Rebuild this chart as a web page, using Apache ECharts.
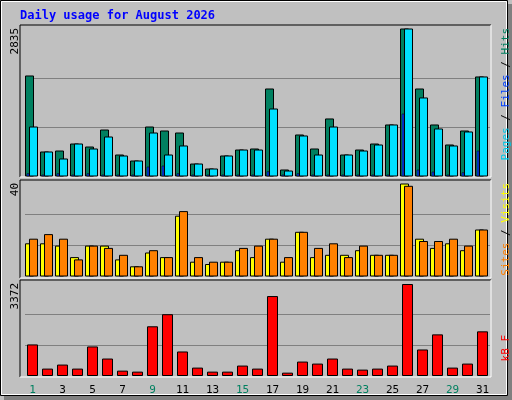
<!DOCTYPE html>
<html><head><meta charset="utf-8">
<script src="https://cdn.jsdelivr.net/npm/echarts@6/dist/echarts.min.js"></script>
<style>html,body{margin:0;padding:0;background:#fff}#c{width:512px;height:400px}</style>
</head><body><div id="c"></div>
<script>
const days = ['1','2','3','4','5','6','7','8','9','10','11','12','13','14','15','16','17','18','19','20','21','22','23','24','25','26','27','28','29','30','31'];
const weekend = [1,2,8,9,15,16,22,23,29,30];
const hits  = [1929,463,482,617,559,887,405,289,945,868,829,231,135,386,501,521,1678,116,791,521,1100,405,501,617,984,2835,1678,984,598,868,1910];
const files = [945,463,328,617,521,752,386,289,829,405,579,231,135,386,501,501,1292,96,772,405,945,405,482,598,984,2835,1505,907,579,849,1910];
const pages = [45,20,45,20,45,20,20,20,174,193,45,20,20,20,20,20,84,20,45,20,20,20,20,20,20,1196,116,77,20,64,482];
const visits = [14,14,13,8,13,13,7,4,10,8,26,6,5,6,11,8,16,6,19,8,9,9,11,9,9,40,16,12,14,11,20];
const sites  = [16,18,16,7,13,12,9,4,11,8,28,8,6,6,12,13,16,8,19,12,14,8,13,9,9,39,15,15,16,13,20];
const kbytes = [1157,271,419,271,1083,640,197,160,1822,2265,899,308,160,160,382,271,2930,123,529,455,640,271,234,271,382,3372,972,1526,308,455,1637];
const maxHits = 2835, maxVisits = 40, maxKB = 3372;

const chart = echarts.init(document.getElementById('c'), null, {renderer:'canvas'});
const mono = 'DejaVu Sans Mono';
function pairSeries(gi, a, b, ca, cb, extra, extraColor){
  return {type:'custom', xAxisIndex:gi, yAxisIndex:gi, data: days.map((d,i)=>[i,a[i],b[i],extra?extra[i]:0]),
    renderItem:function(params, api){
      const i=api.value(0);
      const p0=api.coord([i,0]);
      const pa=api.coord([i,api.value(1)]), pb=api.coord([i,api.value(2)]);
      const c=Math.round(p0[0]);
      const kids=[
        {type:'rect',shape:{x:c-7.5,y:pa[1],width:8,height:p0[1]-pa[1]},style:{fill:ca,stroke:'#000',lineWidth:1}},
        {type:'rect',shape:{x:c-3.5,y:pb[1],width:8,height:p0[1]-pb[1]},style:{fill:cb,stroke:'#000',lineWidth:1}}
      ];
      if(extra){const pe=api.coord([i,api.value(3)]);
        kids.push({type:'rect',shape:{x:c-6,y:pe[1],width:2,height:p0[1]-pe[1]},style:{fill:extraColor,stroke:'#000',lineWidth:0.5}});}
      return {type:'group',children:kids};
    }};
}
const grids=[{left:25,right:22,top:29,height:147},{left:25,right:22,top:184,height:92},{left:25,right:22,top:284,height:92}];
const maxes=[maxHits,maxVisits,maxKB];
const xAxis=grids.map((g,gi)=>({type:'category',gridIndex:gi,data:days,boundaryGap:true,axisLine:{show:false},axisTick:{show:false},
  axisLabel:{show:gi===2,margin:9,fontFamily:mono,fontSize:11,color:(v)=>weekend.includes(+v)?'#008060':'#000'}}));
const yAxis=maxes.map((m,gi)=>({type:'value',gridIndex:gi,min:0,max:m,interval:m/3,axisLabel:{show:false},axisLine:{show:false},axisTick:{show:false},
  splitLine:{show:true,showMaxLine:false,showMinLine:false,lineStyle:{color:'#808080',width:1}}}));
function frame(y1,y2){return [
  {type:'line',shape:{x1:20,y1:y1,x2:491,y2:y1},style:{stroke:'#000',lineWidth:1}},
  {type:'line',shape:{x1:20,y1:y1,x2:20,y2:y2},style:{stroke:'#000',lineWidth:1}},
  {type:'line',shape:{x1:491,y1:y1,x2:491,y2:y2},style:{stroke:'#fff',lineWidth:1}},
  {type:'line',shape:{x1:20,y1:y2,x2:491,y2:y2},style:{stroke:'#fff',lineWidth:1}}];}
function vtext(x,y,rich,text){return {type:'text',x:x,y:y,rotation:Math.PI/2,style:{text:text,rich:rich,font:'11px '+mono,align:'right',verticalAlign:'middle',fill:'#000'},z:10};}
chart.setOption({
  backgroundColor:'#C0C0C0', animation:false,
  grid:grids, xAxis:xAxis, yAxis:yAxis,
  series:[
    pairSeries(0,hits,files,'#008060','#00E0FF',pages,'#0040FF'),
    pairSeries(1,visits,sites,'#FFFF00','#FF8000'),
    {type:'bar',xAxisIndex:2,yAxisIndex:2,data:kbytes,barWidth:11,itemStyle:{color:'#FF0000',borderColor:'#000',borderWidth:1}}
  ],
  graphic:[
    {type:'rect',shape:{x:0.5,y:0.5,width:507,height:395},style:{fill:'none',stroke:'#000',lineWidth:1},z:-1},
    {type:'rect',shape:{x:1.5,y:1.5,width:505,height:393},style:{fill:'none',stroke:'#fff',lineWidth:1},z:-1},
    {type:'rect',shape:{x:508,y:4,width:4,height:396},style:{fill:'#808080'}},
    {type:'rect',shape:{x:4,y:396,width:508,height:4},style:{fill:'#808080'}},
    {type:'text',x:20,y:10,style:{text:'Daily usage for August 2026',font:'bold 12px '+mono,fill:'#0000FF'}},
    ...frame(25,177),...frame(180,278),...frame(280,377),
    vtext(15,28,{},'2835'),
    vtext(15,183,{},'40'),
    vtext(15,283,{},'3372'),
    {type:'text',x:506,y:28,rotation:Math.PI/2,style:{text:'{p|Pages} / {f|Files} / {h|Hits}',align:'right',verticalAlign:'middle',font:'11px '+mono,fill:'#000',
      rich:{p:{fill:'#00C8E8',font:'11px '+mono},f:{fill:'#0040FF',font:'11px '+mono},h:{fill:'#008060',font:'11px '+mono}}}},
    {type:'text',x:506,y:183,rotation:Math.PI/2,style:{text:'{s|Sites} / {v|Visits}',align:'right',verticalAlign:'middle',font:'11px '+mono,fill:'#000',
      rich:{s:{fill:'#FF8000',font:'11px '+mono},v:{fill:'#FFFF00',font:'11px '+mono}}}},
    {type:'text',x:506,y:335,rotation:Math.PI/2,style:{text:'kB F',align:'right',verticalAlign:'middle',font:'11px '+mono,fill:'#FF0000'}}
  ]
});
</script></body></html>
